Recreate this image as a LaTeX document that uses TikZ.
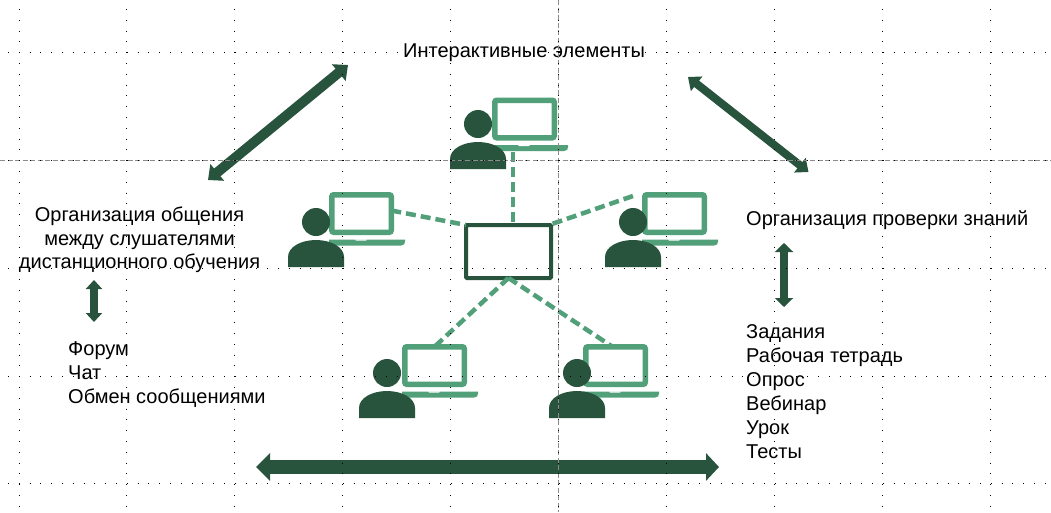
\documentclass[tikz,border=0pt]{standalone}
\usepackage{fontspec}
\setmainfont{Liberation Sans}
\usetikzlibrary{arrows.meta}
\definecolor{dgreen}{HTML}{28533D}
\definecolor{lgreen}{HTML}{52A07A}
\tikzset{
  x=1pt,y=-1pt,
  txt/.style={inner sep=0pt,anchor=base west,font=\fontsize{20}{24}\selectfont},
  ctxt/.style={inner sep=0pt,anchor=base,font=\fontsize{20}{24}\selectfont},
  grid dots/.style={black,line width=0.8pt,dash pattern=on 1pt off 9.8pt},
  grid dash/.style={black!45,line width=0.6pt,dash pattern=on 5pt off 2.5pt},
  link/.style={lgreen,line width=4.5pt,dash pattern=on 10pt off 5pt},
  screen/.style={draw=lgreen,fill=white,line width=5.5pt,rounded corners=2pt,minimum width=59.5pt,minimum height=37.5pt,inner sep=0pt,outer sep=0pt},
  figure/.pic={
    \fill[dgreen] (0,0) circle (14);
    \fill[dgreen] (-28,45) -- (-28,35) .. controls (-28,25) and (-15,18) .. (0,18) .. controls (15,18) and (28,25) .. (28,35) -- (28,45) -- cycle;
  },
  keyboard/.pic={
    \fill[lgreen] (0,0) -- (76,0) -- (76,2) .. controls (76,4.5) and (75,6) .. (72,6) -- (0,6) -- cycle;
    \fill[white] (26,-0.2) -- (38,-0.2) -- (37,1.2) -- (27,1.2) -- cycle;
  },
  darrow/.style={dgreen,line width=#1}
}
\newcommand{\mylaptop}[3]{%
  \node[screen] (#1) at (#2+32.5,#3+21.5) {};
  \pic at (#2,#3+47.5) {keyboard};
}
\begin{document}
\begin{tikzpicture}
\useasboundingbox (0,0) rectangle (1051,512);
\fill[white] (0,0) rectangle (1051,512);
% laptops and people
\mylaptop{s1}{492}{97.5}
\mylaptop{s2}{329}{192}
\mylaptop{s3}{642}{192}
\mylaptop{s4}{402}{344}
\mylaptop{s5}{583}{344}
\pic at (478,124) {figure};
\pic at (316,222) {figure};
\pic at (633,222) {figure};
\pic at (387,373) {figure};
\pic at (577,373) {figure};
% central box
\node[draw=dgreen,line width=4pt,rounded corners=1pt,minimum width=85pt,minimum height=53pt,inner sep=0pt,outer sep=0pt] (hub) at (508.5,251.5) {};
\coordinate (p1) at (513,152);
\coordinate (p3) at (633,196);
\draw[link] (p1) -- ([xshift=4.5pt]hub.north);
\draw[link] (s2.east) ++(0,-3) -- (hub.north west);
\draw[link] (p3) -- ([xshift=-2pt]hub.north east);
\draw[link] (hub.south) -- (s4.north);
\draw[link] (hub.south) -- ([xshift=-3pt]s5.north);
% arrows
\coordinate (a1) at (208,180); \coordinate (a2) at (348,65);
\coordinate (b1) at (688,77); \coordinate (b2) at (808.5,172);
\coordinate (c1) at (94,280); \coordinate (c2) at (94,322);
\coordinate (d1) at (784,243); \coordinate (d2) at (784,307);
\coordinate (e1) at (256,467); \coordinate (e2) at (719,467);
\draw[darrow=10pt,{Triangle[length=12pt,width=21pt]}-{Triangle[length=12pt,width=21pt]}] (a1) -- (a2);
\draw[darrow=8pt,{Triangle[length=11pt,width=18pt]}-{Triangle[length=11pt,width=18pt]}] (b1) -- (b2);
\draw[darrow=8pt,{Triangle[length=9pt,width=16pt]}-{Triangle[length=9pt,width=16pt]}] (c1) -- (c2);
\draw[darrow=8pt,{Triangle[length=9pt,width=18pt]}-{Triangle[length=9pt,width=18pt]}] (d1) -- (d2);
\draw[darrow=14pt,{Triangle[length=14pt,width=27pt]}-{Triangle[length=13pt,width=27pt]}] (e1) -- (e2);
% text
\node[txt] (title) at (403,57) {Интерактивные элементы};
\node[ctxt] (l1) at (139.5,221) {Организация общения};
\node[ctxt] (l2) at (139.5,245) {между слушателями};
\node[ctxt] (l3) at (139.5,268) {дистанционного обучения};
\node[txt] (f1) at (68,355) {Форум};
\node[txt] (f2) at (68,379) {Чат};
\node[txt] (f3) at (68,403) {Обмен сообщениями};
\node[txt] (r0) at (746,225) {Организация проверки знаний};
\node[txt] (t1) at (746,338) {Задания};
\node[txt] (t2) at (746,362) {Рабочая тетрадь};
\node[txt] (t3) at (746,386) {Опрос};
\node[txt] (t4) at (746,410) {Вебинар};
\node[txt] (t5) at (746,434) {Урок};
\node[txt] (t6) at (746,458) {Тесты};
% guides on top
\draw[grid dash] (558,0) -- (558,512);
\draw[grid dash] (0,160) -- (1051,160);
\foreach \gx in {19,126,234,342,450,558,666,774,882,990}
  \draw[grid dots] (\gx,9) -- (\gx,512);
\foreach \gy in {52,160,268,376,483}
  \draw[grid dots] (8,\gy) -- (1045,\gy);
\end{tikzpicture}
\end{document}
